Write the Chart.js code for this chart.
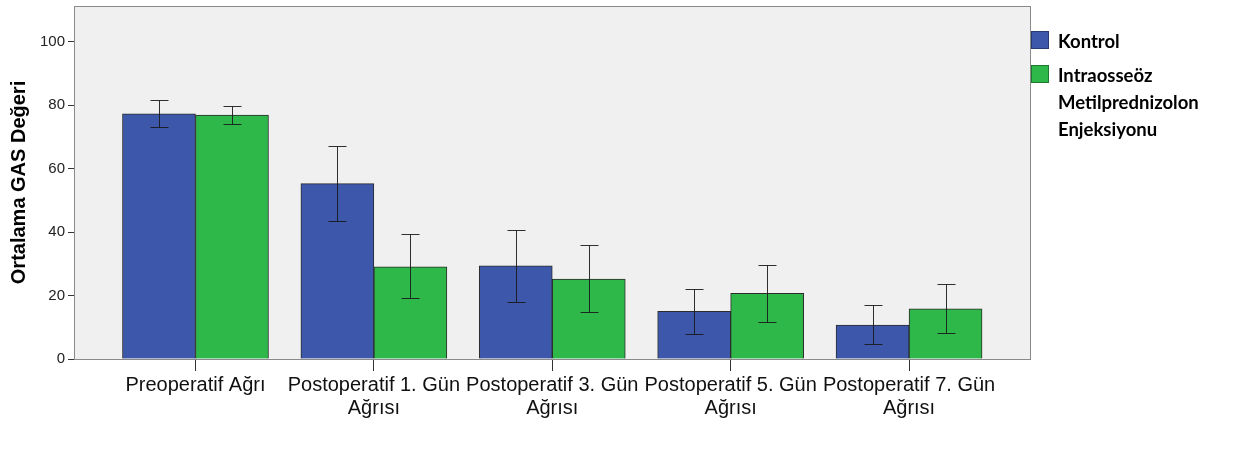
<!DOCTYPE html>
<html><head><meta charset="utf-8">
<script src="https://cdn.jsdelivr.net/npm/chart.js@4.4.1/dist/chart.umd.min.js"></script>
<style>html,body{margin:0;padding:0;background:#fff}#wrap{width:1246px;height:455px}</style>
</head><body><div id="wrap"><canvas id="c" width="1246" height="455"></canvas></div>
<script>
const categories = [
  ["Preoperatif Ağrı"],
  ["Postoperatif 1. Gün", "Ağrısı"],
  ["Postoperatif 3. Gün", "Ağrısı"],
  ["Postoperatif 5. Gün", "Ağrısı"],
  ["Postoperatif 7. Gün", "Ağrısı"]
];
const seriesNames = [["Kontrol"], ["Intraosseöz", "Metilprednizolon", "Enjeksiyonu"]];
const kontrolMeans = [77.3, 55.3, 29.4, 15.0, 10.7];
const kontrolLow   = [73.1, 43.6, 17.9, 7.9, 4.6];
const kontrolHigh  = [81.6, 67.1, 40.7, 22.0, 16.9];
const imlMeans = [76.9, 29.1, 25.2, 20.7, 15.8];
const imlLow   = [74.1, 19.1, 14.8, 11.8, 8.2];
const imlHigh  = [79.8, 39.3, 35.8, 29.5, 23.6];
const yTicks = [0, 20, 40, 60, 80, 100];
const yTitle = "Ortalama GAS Değeri";
const colors = ["#3d58ab", "#2eb84a"];

const lows = [kontrolLow, imlLow];
const highs = [kontrolHigh, imlHigh];

const bgPlugin = {
  id: 'bg',
  beforeDraw(chart) {
    const {ctx, chartArea: a} = chart;
    ctx.save();
    ctx.fillStyle = '#f0f0f0';
    ctx.fillRect(a.left, a.top, a.right - a.left, a.bottom - a.top);
    ctx.restore();
  },
  afterDraw(chart) {
    const {ctx, chartArea: a} = chart;
    ctx.save();
    ctx.strokeStyle = '#8a8a8a';
    ctx.lineWidth = 1;
    ctx.strokeRect(Math.round(a.left) + 0.5, Math.round(a.top) + 0.5, Math.round(a.right - a.left), Math.round(a.bottom - a.top));
    // legend
    ctx.font = 'bold 18.5px Lato';
    ctx.textBaseline = 'middle';
    ctx.fillStyle = '#000';
    const sx = Math.round(a.right) + 1;
    const entries = [{y: 31, lines: seriesNames[0]}, {y: 65, lines: seriesNames[1]}];
    entries.forEach((e, i) => {
      ctx.fillStyle = colors[i];
      ctx.fillRect(sx, e.y, 18, 18);
      ctx.strokeStyle = 'rgba(0,0,0,0.35)';
      ctx.strokeRect(sx + 0.5, e.y + 0.5, 17, 17);
      ctx.fillStyle = '#000';
      e.lines.forEach((t, j) => ctx.fillText(t, sx + 27, e.y + 11 + j * 27));
    });
    ctx.restore();
  }
};

const errPlugin = {
  id: 'err',
  afterDatasetsDraw(chart) {
    const {ctx} = chart;
    const ys = chart.scales.y;
    ctx.save();
    ctx.strokeStyle = 'rgba(25,25,25,0.9)';
    ctx.lineWidth = 1;
    chart.data.datasets.forEach((ds, di) => {
      const meta = chart.getDatasetMeta(di);
      meta.data.forEach((bar, i) => {
        const x = Math.round(bar.x) + 0.5;
        const yl = Math.round(ys.getPixelForValue(lows[di][i])) + 0.5;
        const yh = Math.round(ys.getPixelForValue(highs[di][i])) + 0.5;
        ctx.beginPath();
        ctx.moveTo(x, yl); ctx.lineTo(x, yh);
        ctx.moveTo(x - 9, yl); ctx.lineTo(x + 9, yl);
        ctx.moveTo(x - 9, yh); ctx.lineTo(x + 9, yh);
        ctx.stroke();
      });
    });
    ctx.restore();
  }
};

new Chart(document.getElementById('c'), {
  type: 'bar',
  data: {
    datasets: [
      {label: seriesNames[0].join(' '), data: kontrolMeans.map((v, i) => ({x: i, y: v})), backgroundColor: colors[0], borderColor: '#2b2b2b', borderWidth: 1, barThickness: 73},
      {label: seriesNames[1].join(' '), data: imlMeans.map((v, i) => ({x: i, y: v})), backgroundColor: colors[1], borderColor: '#2b2b2b', borderWidth: 1, barThickness: 73}
    ]
  },
  options: {
    responsive: false,
    animation: false,
    devicePixelRatio: 1,
    layout: {padding: {top: 6, right: 216, left: 0, bottom: 0}},
    plugins: {legend: {display: false}, tooltip: {enabled: false}},
    scales: {
      x: {
        type: 'linear',
        offset: false,
        min: -0.681, max: 4.678,
        afterBuildTicks: s => { s.ticks = categories.map((_, i) => ({value: i})); },
        afterFit: s => { s.height = 96; s.paddingLeft = 0; s.paddingRight = 0; },
        ticks: {
          callback: v => categories[v],
          autoSkip: false, maxRotation: 0, minRotation: 0,
          font: {family: 'Liberation Sans', size: 20, lineHeight: 1.15}, color: '#111', padding: 3
        },
        grid: {drawOnChartArea: false, drawTicks: true, tickLength: 12, tickColor: '#333', offset: false},
        border: {display: true, color: '#777'}
      },
      y: {
        min: 0, max: 111.3,
        afterBuildTicks: s => { s.ticks = yTicks.map(v => ({value: v})); },
        afterFit: s => { s.width = 74; s.paddingTop = 0; s.paddingBottom = 0; },
        ticks: {font: {family: 'Liberation Sans', size: 15}, color: '#222', padding: 3},
        grid: {drawOnChartArea: false, drawTicks: true, tickLength: 6, tickColor: '#333'},
        border: {display: true, color: '#8a8a8a'},
        title: {display: true, text: yTitle, font: {family: 'Liberation Sans', size: 20, weight: 'bold'}, color: '#000', padding: {top: 7, bottom: 0}}
      }
    }
  },
  plugins: [bgPlugin, errPlugin]
});
</script>
</body></html>
